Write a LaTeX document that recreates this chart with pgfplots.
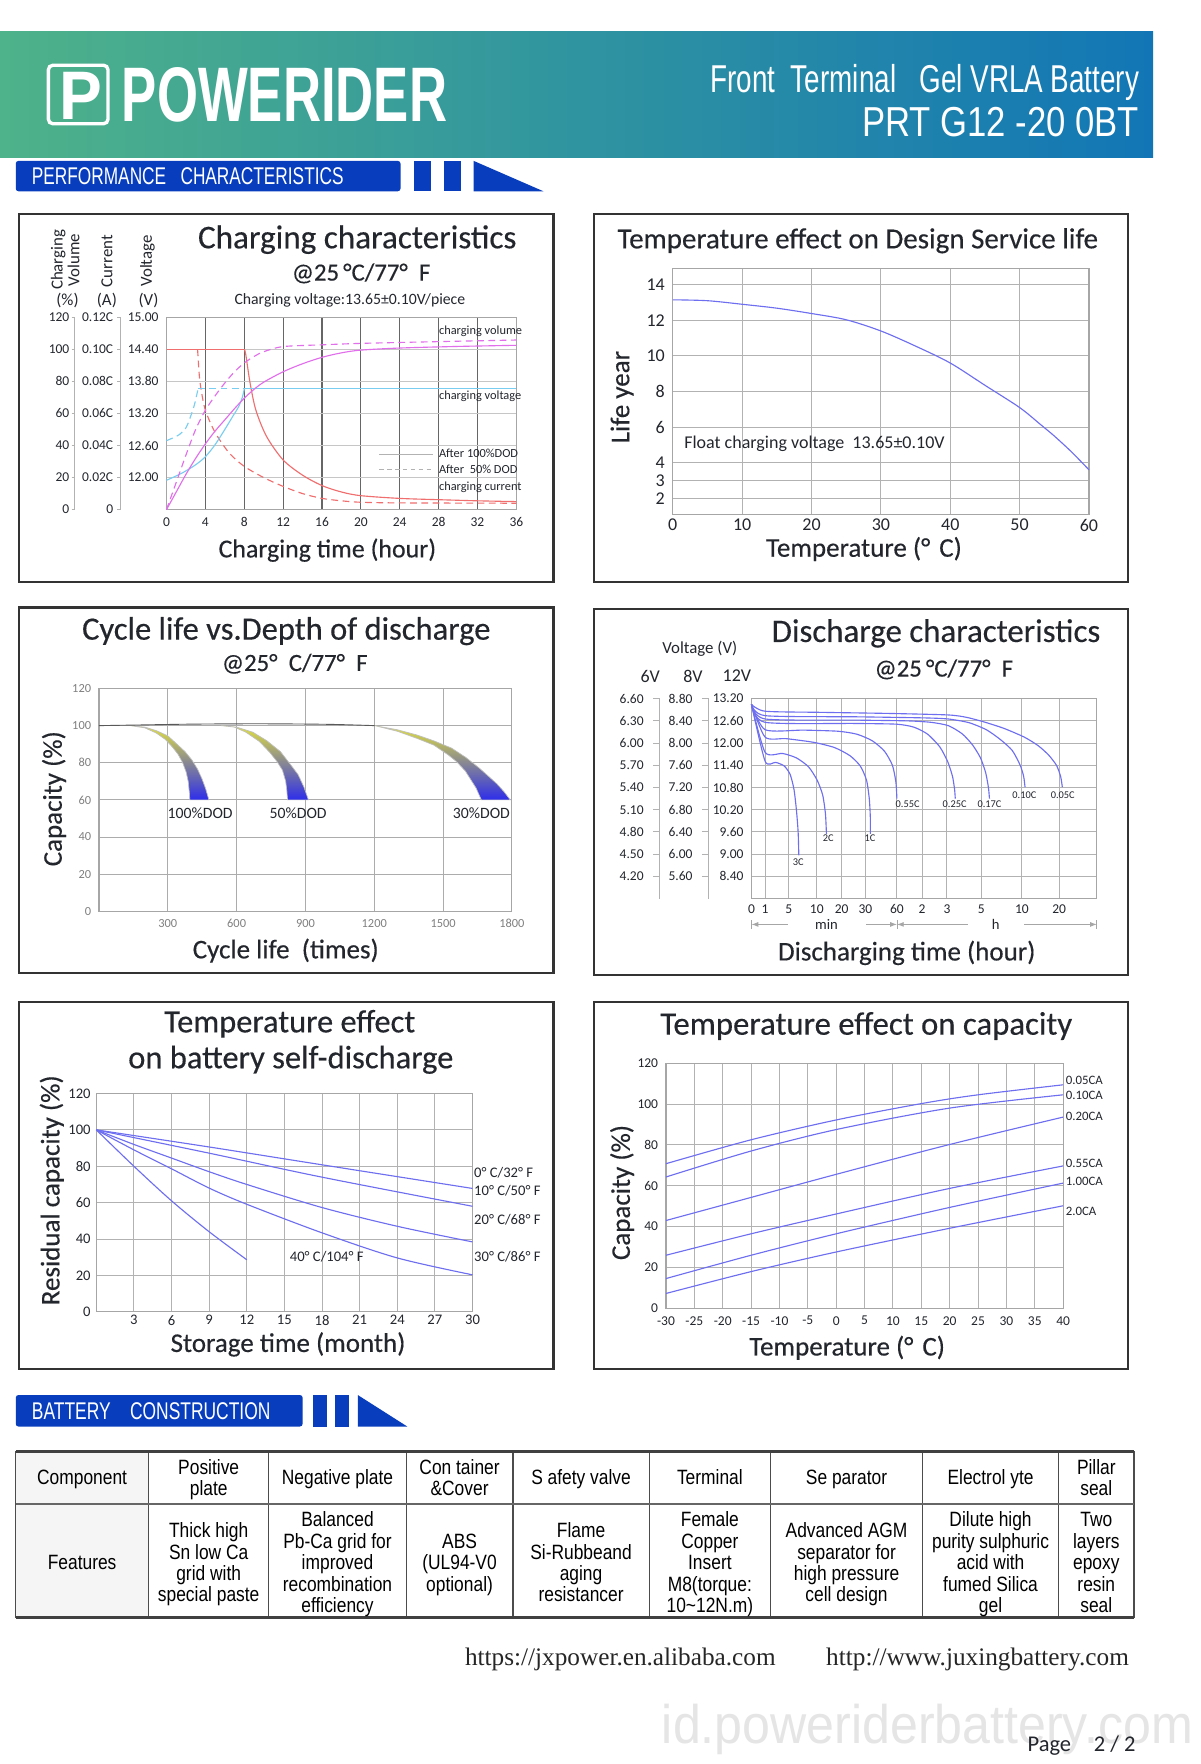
\documentclass[border=0pt]{standalone}
\usepackage{pgfplots}
\pgfplotsset{compat=1.18}
\usepackage{fontspec}
\setmainfont{Carlito}
\newfontfamily\tfont{Carlito}[FakeBold=0.35]
\newfontfamily\libsans{Liberation Sans}
\newfontfamily\libserif{Liberation Serif}
\usetikzlibrary{arrows.meta}
\definecolor{perfblue}{RGB}{8,62,190}
\definecolor{hdrgreen}{RGB}{78,178,138}
\definecolor{hdrblue}{RGB}{18,118,182}
\definecolor{curveblue}{RGB}{110,110,240}
\definecolor{cred}{RGB}{240,110,110}
\definecolor{ccyan}{RGB}{120,205,240}
\definecolor{cmag}{RGB}{225,110,235}
\definecolor{ttl}{RGB}{35,38,45}
\newcommand\fs[1]{\fontsize{#1}{#1}\selectfont}
\newcommand\ttlw[2]{\resizebox{#1}{!}{\tfont\fs{14}#2}}
\newcommand\tc[1]{\scalebox{0.84}[1]{\libsans\fontsize{9.2}{9.5}\selectfont\begin{tabular}{@{}c@{}}#1\end{tabular}}}
\pgfplotsset{
  chart/.style={scale only axis, anchor=north west, clip=false,
    axis line style={draw=gray!70, line width=0.5pt},
    grid=major, major grid style={draw=gray!60, line width=0.45pt},
    major tick length=0pt, tick style={draw=none},
    /pgf/number format/assume math mode=true,
    /pgf/number format/1000 sep={}},
  curve/.style={curveblue, line width=0.5pt, smooth, no markers},
}
\begin{document}
\begin{tikzpicture}[x=0.5pt,y=0.5pt]
\fill[white] (0,0) rectangle (1067,-1568);
% ---------------- header
\shade[left color=hdrgreen, right color=hdrblue] (0,-28) rectangle (1025,-140);
\draw[white, line width=1.5pt, rounded corners=2pt] (43,-58) rectangle (96,-110);
\node[anchor=center, inner sep=0, white] at (72,-85) {\resizebox{19pt}{21pt}{\libsans\bfseries P}};
\node[anchor=base west, inner sep=0, white] at (108,-108) {\resizebox{144.5pt}{24pt}{\libsans\bfseries POWERIDER}};
\node[anchor=base east, inner sep=0, white] at (1013,-82) {\resizebox{190.5pt}{12.5pt}{\libsans Front\ \ Terminal\ \ \ Gel VRLA Battery}};
\node[anchor=base east, inner sep=0, white] at (1013,-121) {\resizebox{123pt}{13pt}{\libsans PRT G12 -20 0BT}};
\fill[perfblue, rounded corners=1.2pt] (14,-143) rectangle (356,-170);
\fill[perfblue] (368,-143) rectangle (383,-170);
\fill[perfblue] (395,-143) rectangle (410,-170);
\fill[perfblue] (421,-143) -- (421,-170) -- (483,-170) -- cycle;
\node[anchor=base west, inner sep=0, white] at (28,-164) {\resizebox{138.5pt}{7.5pt}{\libsans PERFORMANCE\ \ \ CHARACTERISTICS}};
% ---------------- chart boxes
\foreach \a/\b/\c/\d in {17/190/492/517, 528/190/1003/517, 17/540/492/865, 528/541/1003/867, 17/891/492/1217, 528/891/1003/1217}
  \draw[black!80, line width=0.9pt] (\a,-\b) rectangle (\c,-\d);

% ================= A: charging characteristics
\node[text=ttl, inner sep=0] at (317.5,-213) {\ttlw{141.5pt}{Charging characteristics}};
\node[font=\tfont\fs{11}, text=ttl] at (321,-243) {@25\,°C/77°\ \ F};
\node[font=\fs{7}, text=ttl] at (311,-267) {Charging voltage:13.65±0.10V/piece};
\node[rotate=90, align=center, font=\fontsize{7.5}{7.5}\selectfont, text=ttl] at (58,-231) {Charging\\Volume};
\node[rotate=90, font=\fs{7.5}, text=ttl] at (95,-232) {Current};
\node[rotate=90, font=\fs{7.5}, text=ttl] at (131,-232) {Voltage};
\node[font=\fs{7.5}, text=ttl] at (60,-267) {(\%)};
\node[font=\fs{7.5}, text=ttl] at (95,-267) {(A)};
\node[font=\fs{7.5}, text=ttl] at (132,-267) {(V)};
\draw[gray!60] (66.6,-282) -- (66.6,-453);
\draw[gray!60] (107.3,-282) -- (107.3,-453);
\foreach \v/\a in {120/0.12C,100/0.10C,80/0.08C,60/0.06C,40/0.04C,20/0.02C,0/0} {
  \pgfmathsetmacro\yy{-(453-1.425*\v)}
  \node[anchor=east, font=\fs{6}, inner sep=0, text=ttl] at (62,\yy) {\v};
  \draw[gray!60] (63.6,\yy) -- (66.6,\yy);
  \node[anchor=east, font=\fs{6}, inner sep=0, text=ttl] at (101,\yy) {\a};
  \draw[gray!60] (104.3,\yy) -- (107.3,\yy);
}
\begin{axis}[chart, at={(74pt,-141pt)}, width=155.5pt, height=85.5pt,
  xmin=0, xmax=36, ymin=0, ymax=120, xtick={0,4,...,36}, ytick={0,20,...,120},
  yticklabels={,12.00,12.60,13.20,13.80,14.40,15.00},
  x grid style={draw=black!60}, y grid style={draw=gray!45},
  ticklabel style={font=\fs{6}, text=ttl}]
\addplot[cred, line width=0.5pt] coordinates {(0,100)(8,100)};
\addplot[cred, line width=0.5pt, smooth] coordinates {(8,100)(8.15,97)(8.6,79)(9.2,62)(10.3,45.6)(12,31)(14,21.5)(16,15)(18,11)(20,8.7)(24,7)(28,6.2)(32,5.5)(36,5)};
\addplot[cred, line width=0.5pt, dash pattern=on 3pt off 2pt] coordinates {(0,100)(3.2,100)};
\addplot[cred, line width=0.5pt, dash pattern=on 3pt off 2pt, smooth] coordinates {(3.2,100)(3.4,82)(3.7,70)(4,62)(4.6,53)(5.25,45.6)(6.5,35)(8,27)(10,20)(12,14.5)(14,10)(16,7)(18,5.5)(20,4.6)(24,4.2)(36,4)};
\addplot[ccyan, line width=0.5pt, smooth] coordinates {(0,18.3)(1.6,22.8)(3,28)(4,33)(5,40.5)(6,50)(6.8,58)(7.4,64)(7.8,70)(8,75.3)};
\addplot[ccyan, line width=0.5pt] coordinates {(8,75.3)(36,75.3)};
\addplot[ccyan, line width=0.5pt, dash pattern=on 3pt off 2pt, smooth] coordinates {(0,43)(1.3,46.7)(2,51)(2.35,56)(2.7,62)(2.9,66)(3.25,75.3)};
\addplot[ccyan, line width=0.5pt, dash pattern=on 3pt off 2pt] coordinates {(3.25,75.3)(8,75.3)};
\addplot[cmag, line width=0.5pt, smooth] coordinates {(0,0)(1,11)(2,22)(3,32)(4,41)(5,49)(6,56)(7,63)(8,69.5)(9,75)(10,79.5)(12,86)(14,91)(16,95)(18,97.8)(20,99.5)(24,100.8)(30,101.8)(36,102.5)};
\addplot[cmag, line width=0.5pt, dash pattern=on 3pt off 2pt, smooth] coordinates {(0,0)(1,17)(2,34)(3,50)(4,62)(5,71)(6,79)(7,86)(8,91.5)(9,95.5)(10,98.5)(12,101.7)(16,102.8)(20,103.7)(28,104.8)(36,105.8)};
\addplot[gray!60, line width=0.5pt] coordinates {(21.9,34.5)(27.4,34.5)};
\addplot[gray!60, line width=0.5pt, dash pattern=on 2pt off 1.5pt] coordinates {(21.9,25)(27.4,25)};
\node[anchor=west, font=\fs{5.5}, inner sep=0, text=ttl] at (axis cs:28,35) {After 100\%DOD};
\node[anchor=west, font=\fs{5.5}, inner sep=0, text=ttl] at (axis cs:28,25.3) {After\ \ 50\% DOD};
\node[anchor=west, font=\fs{5.5}, inner sep=0, text=ttl] at (axis cs:28,111.5) {charging volume};
\node[anchor=west, font=\fs{5.5}, inner sep=0, text=ttl] at (axis cs:28,71) {charging voltage};
\node[anchor=west, font=\fs{5.5}, inner sep=0, text=ttl] at (axis cs:28,14) {charging current};
\end{axis}
\node[font=\tfont\fs{11.5}, text=ttl] at (291,-489) {Charging time (hour)};

% ================= B: temperature vs life
\node[text=ttl, inner sep=0] at (762.5,-214) {\ttlw{213.5pt}{Temperature effect on Design Service life}};
\begin{axis}[chart, at={(299pt,-119.4pt)}, width=185pt, height=109.2pt,
  xmin=0, xmax=60, ymin=1.1, ymax=14.9, xtick={0,10,...,60}, ytick={2,3,4,6,8,10,12,14},
  ticklabel style={font=\fs{8}, text=ttl}, xticklabel style={yshift=1.5pt}]
\addplot[curve] coordinates {(0,13.15)(5,13.1)(10,12.9)(15,12.68)(20,12.38)(25,12.03)(30,11.4)(35,10.55)(40,9.6)(45,8.35)(50,7.1)(53,6.15)(55,5.5)(57.5,4.6)(60,3.6)};
\node[anchor=west, font=\fs{8}, inner sep=0, text=ttl] at (axis cs:1.6,5.07) {Float charging voltage\ \ 13.65±0.10V};
\end{axis}
\node[rotate=90, font=\tfont\fs{12}, text=ttl] at (553,-353) {Life year};
\node[font=\tfont\fs{12}, text=ttl] at (768,-488) {Temperature (°\,\,C)};

% ================= C: cycle life
\node[text=ttl, inner sep=0] at (254.5,-561) {\ttlw{181.5pt}{Cycle life vs.Depth of discharge}};
\node[font=\tfont\fs{11}, text=ttl] at (262,-590) {@25°\ \ C/77°\ \ F};
\begin{axis}[chart, at={(44pt,-306pt)}, width=183.5pt, height=99pt,
  xmin=0, xmax=1800, ymin=0, ymax=120, xtick={300,600,...,1800}, ytick={0,20,...,120},
  ticklabel style={font=\fs{5.5}, text=gray}, major grid style={draw=gray!65}]
\addplot[draw=gray!50, line width=0.3pt, top color={rgb,255:red,225;green,225;blue,60}, middle color={rgb,255:red,150;green,150;blue,168}, bottom color={rgb,255:red,45;green,45;blue,235}] coordinates {(137,100)(200,99.2)(250,97.3)(300,94.5)(340,90)(375,86)(405,81.5)(430,76.5)(450,71)(465,66)(479,60)(396,60)(394,64)(389,70)(380,75)(365,80)(345,84.5)(320,88.5)(290,92.5)(250,96)(200,98.8)(137,100)} -- cycle;
\addplot[draw=gray!50, line width=0.3pt, top color={rgb,255:red,225;green,225;blue,60}, middle color={rgb,255:red,150;green,150;blue,168}, bottom color={rgb,255:red,45;green,45;blue,235}] coordinates {(533,100)(600,99.2)(670,96.5)(730,92)(791,86)(835,79)(868,73.6)(893,67)(913,60)(822,60)(819,65)(814,70)(800,76)(776,80.7)(745,85.5)(700,91.4)(640,96.5)(590,99.2)(533,100)} -- cycle;
\addplot[draw=gray!50, line width=0.3pt, top color={rgb,255:red,225;green,225;blue,60}, middle color={rgb,255:red,150;green,150;blue,168}, bottom color={rgb,255:red,45;green,45;blue,235}] coordinates {(1202,100)(1300,97.8)(1385,95)(1460,91.8)(1537,87.9)(1600,82.8)(1659,77)(1700,72.5)(1735,68.6)(1765,64.5)(1793,60)(1667,60)(1644,66.4)(1598,75.4)(1560,80.5)(1522,84.3)(1460,89.5)(1385,93.2)(1300,97)(1202,100)} -- cycle;
\addplot[black!65, line width=0.4pt, smooth] coordinates {(0,100)(150,100.3)(400,100.8)(700,101)(1000,100.7)(1202,100)};
\node[font=\fs{7}, text=ttl] at (axis cs:441,52.7) {100\%DOD};
\node[font=\fs{7}, text=ttl] at (axis cs:868,52.7) {50\%DOD};
\node[font=\fs{7}, text=ttl] at (axis cs:1667,52.7) {30\%DOD};
\end{axis}
\node[rotate=90, font=\tfont\fs{12}, text=ttl] at (48,-710) {Capacity (\%)};
\node[font=\tfont\fs{12}, text=ttl] at (254,-845) {Cycle life\ \ (times)};

% ================= D: discharge characteristics
\node[text=ttl, inner sep=0] at (832,-563) {\ttlw{146pt}{Discharge characteristics}};
\node[font=\tfont\fs{11}, text=ttl] at (839,-595) {@25\,°C/77°\ \ F};
\node[font=\fs{7.5}, text=ttl] at (622,-577) {Voltage (V)};
\node[font=\fs{8}, text=ttl] at (578,-601) {6V};
\node[font=\fs{8}, text=ttl] at (616,-601) {8V};
\node[font=\fs{8}, text=ttl] at (655,-601) {12V};
\draw[gray!60] (586.5,-621) -- (586.5,-799);
\draw[gray!60] (629.9,-621) -- (629.9,-799);
\foreach \a/\b [count=\k from 0] in {6.60/8.80,6.30/8.40,6.00/8.00,5.70/7.60,5.40/7.20,5.10/6.80,4.80/6.40,4.50/6.00,4.20/5.60} {
  \pgfmathsetmacro\yy{-(621+19.75*\k)}
  \node[anchor=east, font=\fs{6}, inner sep=0, text=ttl] at (572.5,\yy) {\a};
  \draw[gray!60] (580.5,\yy) -- (586.5,\yy);
  \node[anchor=east, font=\fs{6}, inner sep=0, text=ttl] at (616,\yy) {\b};
  \draw[gray!60] (623.9,\yy) -- (629.9,\yy);
}
\begin{axis}[chart, at={(334pt,-310.5pt)}, width=153.5pt, height=88.9pt,
  xmin=0, xmax=100, ymin=7.8, ymax=13.2,
  xtick={0,3.94,10.8,18.9,26.1,33.0,42.1,49.4,56.6,66.5,78.3,89.1},
  xticklabels={0,1,5,10,20,30,60,2,3,5,10,20},
  ytick={8.4,9,9.6,10.2,10.8,11.4,12,12.6,13.2},
  yticklabels={8.40,9.00,9.60,10.20,10.80,11.40,12.00,12.60,13.20},
  ticklabel style={font=\fs{6}, text=ttl}, xticklabel style={yshift=1pt}, major grid style={draw=gray!60}]
\addplot[curve, tension=0.4] coordinates {(0,13.04)(3.94,12.86)(20,12.83)(40,12.80)(56.8,12.76)(62,12.70)(67,12.58)(73,12.40)(79,12.16)(83,11.93)(86,11.68)(88.3,11.40)(89.5,11.1)(90,10.81)};
\addplot[curve, tension=0.4] coordinates {(0,13.04)(3.94,12.74)(30,12.71)(50,12.68)(57,12.65)(63,12.55)(68,12.36)(72,12.10)(75.5,11.80)(77.8,11.40)(78.8,11.1)(79.2,10.81)};
\addplot[curve, tension=0.4] coordinates {(0,13.04)(3.94,12.65)(30,12.62)(45,12.60)(52,12.56)(57,12.47)(61,12.25)(64,11.95)(66.3,11.6)(67.8,11.2)(68.6,10.8)(68.9,10.5)};
\addplot[curve, tension=0.4] coordinates {(0,13.04)(3.94,12.56)(30,12.53)(42,12.51)(47,12.43)(51,12.24)(54.5,11.90)(56.8,11.5)(58.2,11.1)(58.8,10.75)(59,10.5)};
\addplot[curve, tension=0.4] coordinates {(0,13.04)(3.94,12.36)(15,12.35)(25,12.32)(30.5,12.24)(35,12.06)(38.5,11.78)(40.8,11.4)(41.8,10.95)(42.1,10.5)};
\addplot[curve, tension=0.4] coordinates {(0,13.04)(3.94,12.16)(10,12.12)(18,12.02)(24,11.88)(28.5,11.66)(31.5,11.38)(33.3,11.0)(34.1,10.5)(34.4,10.0)(34.4,9.55)};
\addplot[curve, tension=0.4] coordinates {(0,13.04)(3.94,11.75)(9,11.72)(13,11.6)(16.5,11.36)(19,11.0)(20.6,10.6)(21.4,10.1)(21.7,9.55)};
\addplot[curve, tension=0.4] coordinates {(0,13.04)(3.94,11.51)(7,11.48)(9.5,11.38)(11.2,11.15)(12.3,10.75)(13.0,10.2)(13.5,9.6)(13.7,8.97)};
\node[font=\fs{4.6}, inner sep=0, text=ttl] at (axis cs:13.5,8.79) {3C};
\node[font=\fs{4.6}, inner sep=0, text=ttl] at (axis cs:22.2,9.42) {2C};
\node[font=\fs{4.6}, inner sep=0, text=ttl] at (axis cs:34.3,9.42) {1C};
\node[font=\fs{4.6}, inner sep=0, text=ttl] at (axis cs:45.2,10.36) {0.55C};
\node[font=\fs{4.6}, inner sep=0, text=ttl] at (axis cs:58.8,10.36) {0.25C};
\node[font=\fs{4.6}, inner sep=0, text=ttl] at (axis cs:68.9,10.36) {0.17C};
\node[font=\fs{4.6}, inner sep=0, text=ttl] at (axis cs:79,10.6) {0.10C};
\node[font=\fs{4.6}, inner sep=0, text=ttl] at (axis cs:90.1,10.6) {0.05C};
\end{axis}
\draw[gray!70, line width=0.4pt, -{Latex[length=3pt,width=2.2pt]}] (700,-821.7) -- (668,-821.7);
\draw[gray!70, line width=0.4pt, -{Latex[length=3pt,width=2.2pt]}] (770,-821.7) -- (797.3,-821.7);
\draw[gray!70, line width=0.4pt, -{Latex[length=3pt,width=2.2pt]}] (860,-821.7) -- (797.3,-821.7);
\draw[gray!70, line width=0.4pt, -{Latex[length=3pt,width=2.2pt]}] (910,-821.7) -- (975,-821.7);
\draw[gray!70, line width=0.4pt] (668,-818) -- (668,-825.4) (797.3,-818) -- (797.3,-825.4) (975,-818) -- (975,-825.4);
\node[font=\fs{6.5}, inner sep=1pt, text=ttl] at (734.7,-821.7) {min};
\node[font=\fs{6.5}, inner sep=1pt, text=ttl] at (885,-821.7) {h};
\node[font=\tfont\fs{12}, text=ttl] at (806,-847) {Discharging time (hour)};

% ================= E: self discharge
\node[text=ttl, inner sep=0] at (257.5,-910) {\ttlw{111.5pt}{Temperature effect}};
\node[text=ttl, inner sep=0] at (258.5,-942) {\ttlw{144.5pt}{on battery self-discharge}};
\begin{axis}[chart, at={(42.8pt,-486pt)}, width=167.2pt, height=97pt,
  xmin=0, xmax=30, ymin=0, ymax=120, xtick={3,6,...,30}, ytick={0,20,...,120},
  ticklabel style={font=\fs{6.5}, text=ttl}, xticklabel style={yshift=2pt}, yticklabel style={xshift=1pt}]
\addplot[curve] coordinates {(0,100)(9,90.6)(18,80.8)(30,67.8)};
\addplot[curve] coordinates {(0,100)(9,87.2)(18,74)(30,58)};
\addplot[curve] coordinates {(0,100)(3,92)(6,84.5)(9,77)(12,70)(18,57.3)(24,47)(30,38.4)};
\addplot[curve] coordinates {(0,100)(3,89)(6,78.6)(9,68)(12,59.1)(18,43.4)(24,29.6)(30,20.3)};
\addplot[curve] coordinates {(0,100)(3,80)(6,61)(9,44)(12,28.6)};
\node[anchor=west, font=\fs{6.5}, inner sep=0, text=ttl] at (axis cs:30.1,76.7) {0°\ C/32°\ F};
\node[anchor=west, font=\fs{6.5}, inner sep=0, text=ttl] at (axis cs:30.1,66.5) {10°\ C/50°\ F};
\node[anchor=west, font=\fs{6.5}, inner sep=0, text=ttl] at (axis cs:30.1,50.8) {20°\ C/68°\ F};
\node[anchor=west, font=\fs{6.5}, inner sep=0, text=ttl] at (axis cs:30.1,30) {30°\ C/86°\ F};
\node[anchor=west, font=\fs{6.5}, inner sep=0, text=ttl] at (axis cs:15.4,30) {40°\ C/104°\ F};
\end{axis}
\node[rotate=90, font=\tfont\fs{12}, text=ttl] at (46,-1058) {Residual capacity (\%)};
\node[font=\tfont\fs{12}, text=ttl] at (256,-1195) {Storage time (month)};

% ================= F: temperature vs capacity
\node[text=ttl, inner sep=0] at (770,-912) {\ttlw{183pt}{Temperature effect on capacity}};
\begin{axis}[chart, at={(296pt,-472.5pt)}, width=176.5pt, height=109pt,
  xmin=-30, xmax=40, ymin=0, ymax=120, xtick={-30,-25,...,40}, ytick={0,20,...,120},
  ticklabel style={font=\fs{6}, text=ttl}]
\addplot[curve] coordinates {(-30,70.8)(-15,82.5)(0,92.2)(15,100.2)(25,104.5)(40,109.4)};
\addplot[curve] coordinates {(-30,64.3)(-15,77)(0,87.5)(20,98)(40,104.5)};
\addplot[curve] coordinates {(-30,43)(-15,54.3)(0,65.6)(20,80.2)(40,93.6)};
\addplot[curve] coordinates {(-30,26)(-15,36.5)(0,46.2)(20,58.7)(40,69.7)};
\addplot[curve] coordinates {(-30,14.6)(-15,26)(0,36.5)(20,49.4)(40,61.3)};
\addplot[curve] coordinates {(-30,7.3)(-15,18)(0,27.6)(20,39.2)(40,50.2)};
\node[anchor=west, font=\fs{5.7}, inner sep=0, text=ttl] at (axis cs:40.4,111.5) {0.05CA};
\node[anchor=west, font=\fs{5.7}, inner sep=0, text=ttl] at (axis cs:40.4,104) {0.10CA};
\node[anchor=west, font=\fs{5.7}, inner sep=0, text=ttl] at (axis cs:40.4,93.7) {0.20CA};
\node[anchor=west, font=\fs{5.7}, inner sep=0, text=ttl] at (axis cs:40.4,70.8) {0.55CA};
\node[anchor=west, font=\fs{5.7}, inner sep=0, text=ttl] at (axis cs:40.4,61.9) {1.00CA};
\node[anchor=west, font=\fs{5.7}, inner sep=0, text=ttl] at (axis cs:40.4,47.3) {2.0CA};
\end{axis}
\node[rotate=90, font=\tfont\fs{12}, text=ttl] at (553,-1060) {Capacity (\%)};
\node[font=\tfont\fs{12}, text=ttl] at (753,-1198) {Temperature (°\,\,C)};

% ================= Battery construction
\fill[perfblue, rounded corners=1.2pt] (14,-1240) rectangle (269,-1268);
\fill[perfblue] (278,-1240) rectangle (291,-1268);
\fill[perfblue] (298,-1240) rectangle (310,-1268);
\fill[perfblue] (318,-1240) -- (318,-1268) -- (362,-1268) -- cycle;
\node[anchor=base west, inner sep=0, white] at (28,-1262) {\resizebox{106pt}{7.5pt}{\libsans BATTERY\ \ \ \ CONSTRUCTION}};
% table
\fill[gray!8] (14,-1290) rectangle (132,-1438);
\foreach \x in {14,132,239,361,456,577,685,820,941,1008}
  \draw[black!70, line width=0.5pt] (\x,-1290) -- (\x,-1438);
\draw[black!60, line width=0.9pt] (14,-1337) -- (1008,-1337);
\draw[black!75, line width=1.2pt] (14,-1290) -- (1008,-1290);
\draw[black!75, line width=1.2pt] (14,-1438) -- (1008,-1438);
\node at (73,-1316) {\tc{Component}};
\node at (185.5,-1316) {\tc{Positive\\plate}};
\node at (300,-1316) {\tc{Negative plate}};
\node at (408.5,-1316) {\tc{Con tainer\\\&Cover}};
\node at (516.5,-1316) {\tc{S afety valve}};
\node at (631,-1316) {\tc{Terminal}};
\node at (752.5,-1316) {\tc{Se parator}};
\node at (880.5,-1316) {\tc{Electrol yte}};
\node at (974.5,-1316) {\tc{Pillar\\seal}};
\node at (73,-1391.5) {\tc{Features}};
\node at (185.5,-1391.5) {\tc{Thick high\\Sn low Ca\\grid with\\special paste}};
\node at (300,-1391.5) {\tc{Balanced\\Pb-Ca grid for\\improved\\recombination\\efficiency}};
\node at (408.5,-1391.5) {\tc{ABS\\(UL94-V0\\optional)}};
\node at (516.5,-1391.5) {\tc{Flame\\Si-Rubbeand\\aging\\resistancer}};
\node at (631,-1391.5) {\tc{Female\\Copper\\Insert\\M8(torque:\\10\textasciitilde 12N.m)}};
\node at (752.5,-1391.5) {\tc{Advanced AGM\\separator for\\high pressure\\cell design}};
\node at (880.5,-1391.5) {\tc{Dilute high\\purity sulphuric\\acid with\\fumed Silica\\gel}};
\node at (974.5,-1391.5) {\tc{Two\\layers\\epoxy\\resin\\seal}};

% ================= footer
\node[anchor=base west, inner sep=0, text=black!85] at (413,-1480) {\resizebox{138pt}{!}{\libserif https://jxpower.en.alibaba.com}};
\node[anchor=base west, inner sep=0, text=black!85] at (734,-1480) {\resizebox{134.5pt}{!}{\libserif http://www.juxingbattery.com}};
\node[anchor=base west, inner sep=0, text=gray!20] at (588,-1550) {\resizebox{236pt}{17.5pt}{\libsans id.poweriderbattery.com}};
\node[anchor=base west, inner sep=0, font=\fs{10}, text=ttl] at (913,-1557) {Page};
\node[anchor=base west, inner sep=0, font=\fs{10}, text=ttl] at (972,-1557) {2 / 2};
\end{tikzpicture}
\end{document}
